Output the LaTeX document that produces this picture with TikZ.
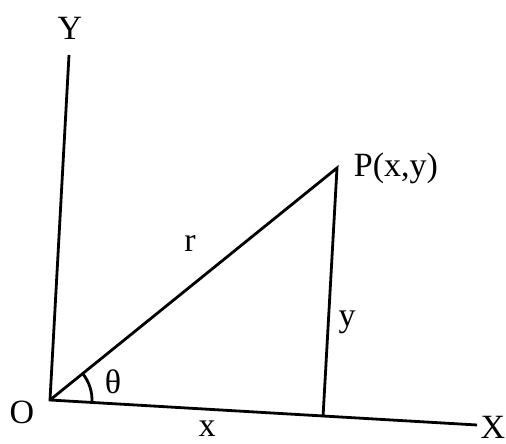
\documentclass[tikz,border=0pt]{standalone}
\usepackage{fontspec}
\setmainfont{Liberation Serif}
\usepackage{tikz}
\usetikzlibrary{calc,positioning}

\begin{document}
\begin{tikzpicture}[x=0.5pt,y=0.5pt,line width=1.4pt,font=\fontsize{17}{20}\selectfont]
  \useasboundingbox (0,0) rectangle (506,443);
  \coordinate (O) at (50,43);
  \coordinate (ytop) at (69,388);
  \coordinate (xend) at (477,18);
  \coordinate (P) at (337,275);
  \coordinate (foot) at (323,26);
  \draw (ytop)--(O)--(xend);
  \draw (O)--(P)--(foot);
  \draw (O) ++(-3.35:21pt) arc[start angle=-3.35,end angle=38.9,radius=21pt];
  \node (ylabel) at (70,415) {Y};
  \node (xlabel) at (493,16) {X};
  \node (olabel) at (22,31) {O};
  \node (plabel) at (396,275) {P(x,y)};
  \node (rlabel) at (190,200) {r};
  \node (ylen) at (347,121) {y};
  \node (xlen) at (207,14) {x};
  \node (theta) at (113,61) {θ};
\end{tikzpicture}
\end{document}
